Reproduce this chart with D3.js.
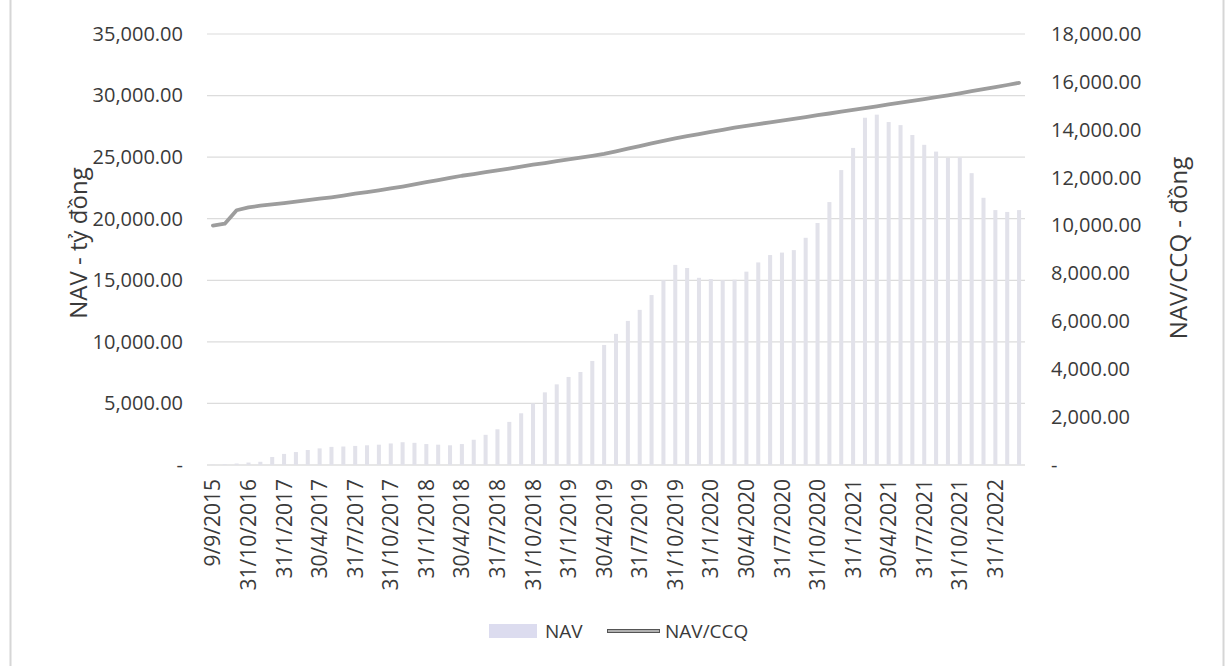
<!DOCTYPE html>
<html>
<head>
<meta charset="utf-8">
<script src="https://cdn.jsdelivr.net/npm/d3@7"></script>
<style>
  html, body { margin: 0; padding: 0; background: #ffffff; }
  svg { display: block; }
  text { font-family: "Open Sans", "Noto Sans", sans-serif; fill: #3a3a3a; }
</style>
</head>
<body>
<svg id="chart" width="1230" height="666"></svg>
<script>
// Month-end valuation dates (category axis)
const categories = [
  "9/9/2015", "31/8/2016", "30/9/2016", "31/10/2016", "30/11/2016", "31/12/2016",
  "31/1/2017", "28/2/2017", "31/3/2017", "30/4/2017", "31/5/2017", "30/6/2017",
  "31/7/2017", "31/8/2017", "30/9/2017", "31/10/2017", "30/11/2017", "31/12/2017",
  "31/1/2018", "28/2/2018", "31/3/2018", "30/4/2018", "31/5/2018", "30/6/2018",
  "31/7/2018", "31/8/2018", "30/9/2018", "31/10/2018", "30/11/2018", "31/12/2018",
  "31/1/2019", "28/2/2019", "31/3/2019", "30/4/2019", "31/5/2019", "30/6/2019",
  "31/7/2019", "31/8/2019", "30/9/2019", "31/10/2019", "30/11/2019", "31/12/2019",
  "31/1/2020", "29/2/2020", "31/3/2020", "30/4/2020", "31/5/2020", "30/6/2020",
  "31/7/2020", "31/8/2020", "30/9/2020", "31/10/2020", "30/11/2020", "31/12/2020",
  "31/1/2021", "28/2/2021", "31/3/2021", "30/4/2021", "31/5/2021", "30/6/2021",
  "31/7/2021", "31/8/2021", "30/9/2021", "31/10/2021", "30/11/2021", "31/12/2021",
  "31/1/2022", "28/2/2022", "31/3/2022"
];

// NAV of the fund, tỷ đồng (left axis, bars)
const navValues = [
  30, 60, 120, 200, 260, 650,
  900, 1050, 1220, 1350, 1470, 1500,
  1550, 1600, 1650, 1750, 1850, 1800,
  1700, 1650, 1600, 1700, 2050, 2450,
  2900, 3500, 4200, 5000, 5900, 6550,
  7150, 7550, 8450, 9750, 10650, 11700,
  12600, 13800, 15000, 16250, 16000, 15200,
  15100, 15000, 15050, 15700, 16450, 17050,
  17250, 17450, 18450, 19650, 21350, 23950,
  25750, 28200, 28450, 27850, 27600, 26800,
  26000, 25450, 24950, 25000, 23700, 21700,
  20700, 20550, 20700
];

// NAV per fund certificate, đồng (right axis, line)
const navPerUnit = [
  10000, 10080, 10640, 10760, 10830, 10880,
  10940, 11000, 11060, 11120, 11180, 11250,
  11330, 11400, 11470, 11550, 11630, 11720,
  11810, 11900, 11990, 12080, 12150, 12230,
  12300, 12380, 12460, 12540, 12610, 12690,
  12760, 12840, 12910, 12990, 13100, 13210,
  13320, 13430, 13540, 13640, 13730, 13820,
  13910, 14000, 14090, 14160, 14240, 14310,
  14380, 14460, 14530, 14610, 14680, 14760,
  14830, 14900, 14980, 15060, 15130, 15210,
  15280, 15360, 15440, 15520, 15610, 15700,
  15780, 15870, 15960
];

const leftTicks = [0, 5000, 10000, 15000, 20000, 25000, 30000, 35000];
const rightTicks = [0, 2000, 4000, 6000, 8000, 10000, 12000, 14000, 16000, 18000];

const svg = d3.select("#chart");
const H = 666;
const plot = { left: 207, right: 1025, top: 34, bottom: 465 };

// Outer chart frame
svg.append("rect")
  .attr("x", 10.5).attr("y", -5)
  .attr("width", 1213).attr("height", H + 10)
  .attr("fill", "none").attr("stroke", "#d6d6d6").attr("stroke-width", 2);

const x = d3.scaleBand()
  .domain(categories)
  .range([plot.left, plot.right])
  .paddingInner(0.66)
  .paddingOuter(0.33);

const yL = d3.scaleLinear().domain([0, 35000]).range([plot.bottom, plot.top]);
const yR = d3.scaleLinear().domain([0, 18000]).range([plot.bottom, plot.top]);

const fmt = d3.format(",.2f");
const tickFmt = d => d === 0 ? "-" : fmt(d);

// Horizontal gridlines
svg.append("g")
  .selectAll("line")
  .data(leftTicks)
  .join("line")
  .attr("x1", plot.left).attr("x2", plot.right)
  .attr("y1", d => yL(d)).attr("y2", d => yL(d))
  .attr("stroke", d => d === 0 ? "#d0d0d0" : "#dcdcdc")
  .attr("stroke-width", 1.2);

// NAV bars
svg.append("g")
  .selectAll("rect")
  .data(categories)
  .join("rect")
  .attr("x", d => x(d))
  .attr("width", x.bandwidth())
  .attr("y", (d, i) => yL(navValues[i]))
  .attr("height", (d, i) => yL(0) - yL(navValues[i]))
  .attr("fill", "#e2e2ea");

// NAV/CCQ line
const line = d3.line()
  .x((d, i) => x(categories[i]) + x.bandwidth() / 2)
  .y(d => yR(d));

svg.append("path")
  .datum(navPerUnit)
  .attr("d", line)
  .attr("fill", "none")
  .attr("stroke", "#9d9d9d")
  .attr("stroke-width", 3.8)
  .attr("stroke-linejoin", "round")
  .attr("stroke-linecap", "round");

// Left axis
const axL = svg.append("g")
  .attr("transform", `translate(${plot.left},0)`)
  .call(d3.axisLeft(yL).tickValues(leftTicks).tickSize(0).tickPadding(24).tickFormat(tickFmt));
axL.select(".domain").remove();
axL.selectAll("text").style("font-size", "20px").attr("fill", "#3a3a3a");

// Right axis
const axR = svg.append("g")
  .attr("transform", `translate(${plot.right},0)`)
  .call(d3.axisRight(yR).tickValues(rightTicks).tickSize(0).tickPadding(26).tickFormat(tickFmt));
axR.select(".domain").remove();
axR.selectAll("text").style("font-size", "20px").attr("fill", "#3a3a3a");

// Category axis, every third date labelled
const axB = svg.append("g")
  .attr("transform", `translate(0,${plot.bottom})`)
  .call(d3.axisBottom(x).tickValues(categories.filter((d, i) => i % 3 === 0)).tickSize(0));
axB.select(".domain").remove();
axB.selectAll("text")
  .style("font-size", "21px")
  .attr("fill", "#3a3a3a")
  .attr("transform", "rotate(-90)")
  .attr("text-anchor", "end")
  .attr("x", -14)
  .attr("y", 0)
  .attr("dy", "0.36em");

// Axis titles
svg.append("text")
  .attr("transform", "translate(87,243) rotate(-90)")
  .attr("text-anchor", "middle")
  .style("font-size", "24px")
  .text("NAV - tỷ đồng");

svg.append("text")
  .attr("transform", "translate(1187,248) rotate(-90)")
  .attr("text-anchor", "middle")
  .style("font-size", "24px")
  .text("NAV/CCQ - đồng");

// Legend
const legend = svg.append("g");
legend.append("rect")
  .attr("x", 489).attr("y", 624).attr("width", 48).attr("height", 14)
  .attr("fill", "#dcdcef");
legend.append("text")
  .attr("x", 545).attr("y", 638)
  .style("font-size", "19px")
  .text("NAV");
legend.append("line")
  .attr("x1", 607).attr("x2", 660).attr("y1", 631).attr("y2", 631)
  .attr("stroke", "#555555").attr("stroke-width", 4);
legend.append("line")
  .attr("x1", 608).attr("x2", 659).attr("y1", 631).attr("y2", 631)
  .attr("stroke", "#cfcfcf").attr("stroke-width", 1.4);
legend.append("text")
  .attr("x", 665).attr("y", 638)
  .style("font-size", "19px")
  .text("NAV/CCQ");
</script>
</body>
</html>
